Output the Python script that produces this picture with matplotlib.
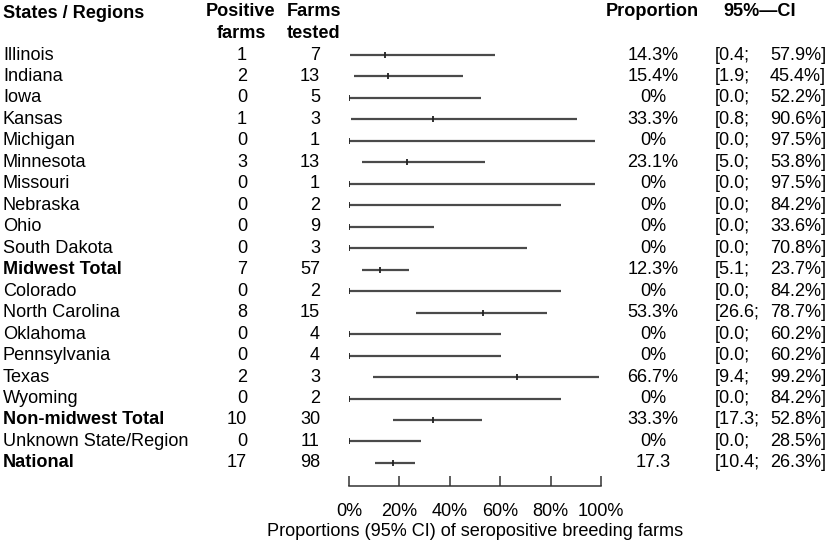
import matplotlib
matplotlib.use("Agg")
import matplotlib.pyplot as plt
from matplotlib.transforms import blended_transform_factory

plt.rcParams['font.family'] = ['Liberation Sans', 'DejaVu Sans']

names = ["Illinois", "Indiana", "Iowa", "Kansas", "Michigan", "Minnesota", "Missouri",
         "Nebraska", "Ohio", "South Dakota", "Midwest Total", "Colorado", "North Carolina",
         "Oklahoma", "Pennsylvania", "Texas", "Wyoming", "Non-midwest Total",
         "Unknown State/Region", "National"]
bold_rows = ["Midwest Total", "Non-midwest Total", "National"]
positive = [1, 2, 0, 1, 0, 3, 0, 0, 0, 0, 7, 0, 8, 0, 0, 2, 0, 10, 0, 17]
tested = [7, 13, 5, 3, 1, 13, 1, 2, 9, 3, 57, 2, 15, 4, 4, 3, 2, 30, 11, 98]
prop = [14.3, 15.4, 0, 33.3, 0, 23.1, 0, 0, 0, 0, 12.3, 0, 53.3, 0, 0, 66.7, 0, 33.3, 0, 17.3]
prop_labels = ["14.3%", "15.4%", "0%", "33.3%", "0%", "23.1%", "0%", "0%", "0%", "0%",
               "12.3%", "0%", "53.3%", "0%", "0%", "66.7%", "0%", "33.3%", "0%", "17.3"]
ci_low = [0.4, 1.9, 0.0, 0.8, 0.0, 5.0, 0.0, 0.0, 0.0, 0.0, 5.1, 0.0, 26.6, 0.0, 0.0,
          9.4, 0.0, 17.3, 0.0, 10.4]
ci_high = [57.9, 45.4, 52.2, 90.6, 97.5, 53.8, 97.5, 84.2, 33.6, 70.8, 23.7, 84.2, 78.7,
           60.2, 60.2, 99.2, 84.2, 52.8, 28.5, 26.3]
xticks = [0, 20, 40, 60, 80, 100]
xtick_labels = ["0%", "20%", "40%", "60%", "80%", "100%"]

W, H = 829, 544
fig = plt.figure(figsize=(W / 100, H / 100), dpi=100)
x0, x1 = 349, 601
ax = fig.add_axes([x0 / W, 0, (x1 - x0) / W, 1])
row0, step = 55.0, 21.47
ax.set_ylim((H - row0) / step, -row0 / step)
ax.set_xlim(0, 100)
ax.patch.set_visible(False)

fs = 13.1
line_c = '#4a4a4a'
for i in range(len(names)):
    ax.plot([ci_low[i], ci_high[i]], [i, i], color=line_c, lw=1.6, solid_capstyle='butt')
    ax.plot([prop[i]], [i], marker='|', ms=5.0, mew=1.3, color='#222222')

# axis
for s in ['top', 'left', 'right']:
    ax.spines[s].set_visible(False)
axis_y = (486 - row0) / step
ax.spines['bottom'].set_position(('data', axis_y))
ax.spines['bottom'].set_color('#333333')
ax.spines['bottom'].set_linewidth(1.1)
ax.set_yticks([])
ax.set_xticks(xticks)
ax.set_xticklabels(xtick_labels, fontsize=fs)
ax.tick_params(axis='x', direction='in', length=7.3, width=1.1, color='#333333', pad=12.0)
ax.set_xlabel("Proportions (95% CI) of seropositive breeding farms", fontsize=fs, labelpad=2.5)

tr = blended_transform_factory(fig.transFigure, ax.transData)
def fx(px):
    return px / W

def hy(py):
    return (py - row0) / step

# headers
ax.text(fx(3), hy(13), "States / Regions", transform=tr, fontsize=fs, fontweight='bold',
        ha='left', va='center')
ax.text(fx(241), hy(12), "Positive", transform=tr, fontsize=fs, fontweight='bold', ha='center', va='center')
ax.text(fx(241), hy(33), "farms", transform=tr, fontsize=fs, fontweight='bold', ha='center', va='center')
ax.text(fx(314), hy(12), "Farms", transform=tr, fontsize=fs, fontweight='bold', ha='center', va='center')
ax.text(fx(314), hy(33), "tested", transform=tr, fontsize=fs, fontweight='bold', ha='center', va='center')
ax.text(fx(652), hy(12), "Proportion", transform=tr, fontsize=fs, fontweight='bold', ha='center', va='center')
ax.text(fx(760), hy(12), "95%\u2014CI", transform=tr, fontsize=fs, fontweight='bold', ha='center', va='center')

for i, n in enumerate(names):
    w = 'bold' if n in bold_rows else 'normal'
    ax.text(fx(3), i, n, transform=tr, fontsize=fs, fontweight=w, ha='left', va='center')
    ax.text(fx(247), i, str(positive[i]), transform=tr, fontsize=fs, ha='right', va='center')
    ax.text(fx(320), i, str(tested[i]), transform=tr, fontsize=fs, ha='right', va='center')
    ax.text(fx(653), i, prop_labels[i], transform=tr, fontsize=fs, ha='center', va='center')
    ax.text(fx(715), i, "[%.1f;" % ci_low[i], transform=tr, fontsize=fs, ha='left', va='center')
    ax.text(fx(826), i, "%.1f%%]" % ci_high[i], transform=tr, fontsize=fs, ha='right', va='center')

fig.savefig("out.png", dpi=100)
